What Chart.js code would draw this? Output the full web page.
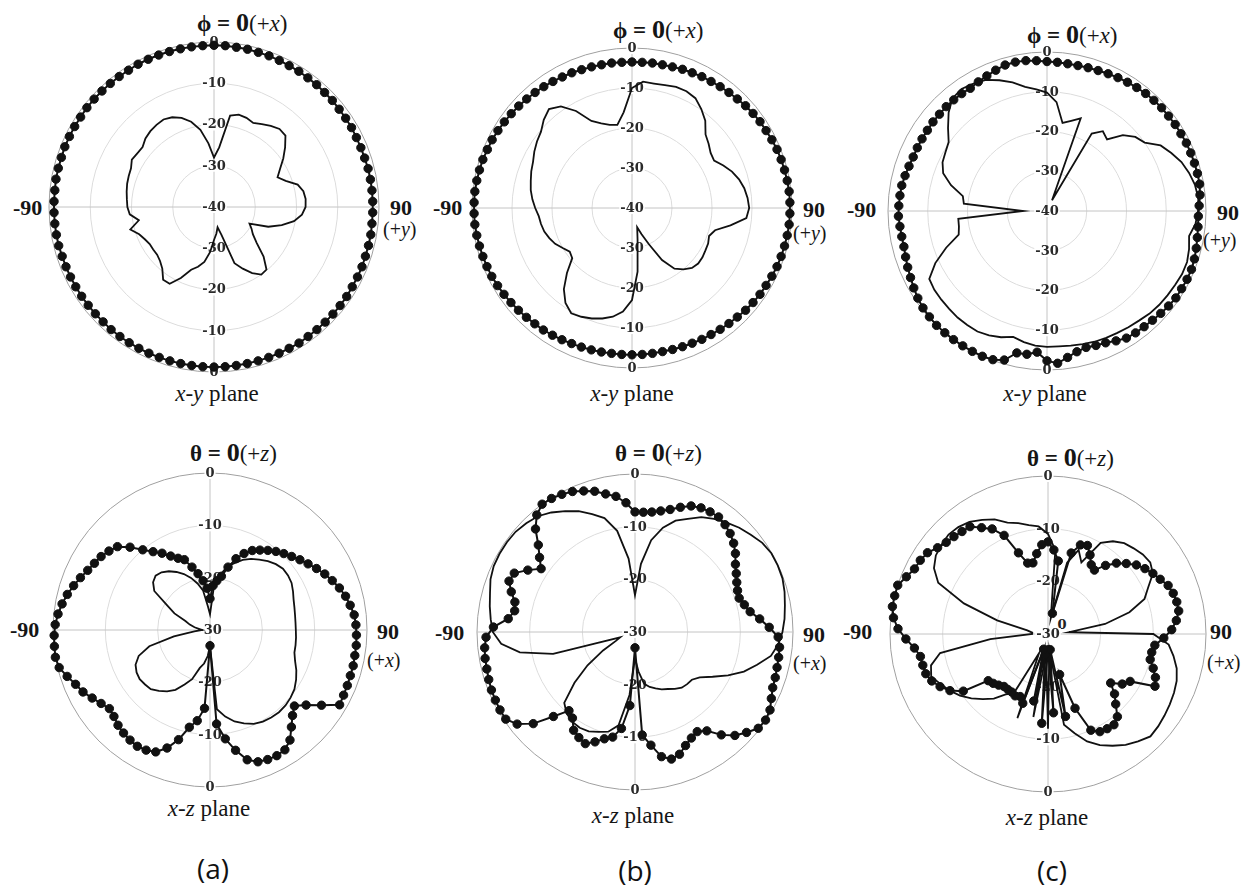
<!DOCTYPE html>
<html><head><meta charset="utf-8">
<script src="https://cdn.jsdelivr.net/npm/chart.js@4.4.0/dist/chart.umd.min.js"></script>
<style>
html,body{margin:0;padding:0;background:#fff;}
#wrap{position:relative;width:1252px;height:887px;overflow:hidden;background:#fff;}
canvas{position:absolute;}
.t{position:absolute;font-family:"Liberation Serif","Times New Roman",serif;color:#151515;white-space:nowrap;line-height:1;}
.ttl{font-size:23px;transform:translateY(-50%);}
.ttl b{font-weight:bold;}
.ttl .z{font-size:26px;font-weight:bold;}
.ax{font-size:22px;font-weight:bold;transform:translateY(-50%);}
.ax2{font-size:20px;transform:translateY(-50%);}
.pl{font-size:23px;transform:translate(-50%,-50%);}
.lt{position:absolute;font-family:"Open Sans","Noto Sans",sans-serif;font-size:28px;color:#111;transform:translate(-50%,-50%);line-height:1;white-space:nowrap;}
.sm{position:absolute;font-family:"DejaVu Serif",serif;font-weight:bold;font-size:13px;color:#222;transform:translate(-50%,-50%);line-height:1;}
</style></head>
<body><div id="wrap">
<div class="t ttl" style="left:197px;top:23px"><b>ϕ = </b><span class="z">0</span>(+<i>x</i>)</div>
<div class="t ttl" style="left:613px;top:30px"><b>ϕ = </b><span class="z">0</span>(+<i>x</i>)</div>
<div class="t ttl" style="left:1027px;top:35px"><b>ϕ = </b><span class="z">0</span>(+<i>x</i>)</div>
<div class="t ttl" style="left:190px;top:453px"><b>θ = </b><span class="z">0</span>(+<i>z</i>)</div>
<div class="t ttl" style="left:615px;top:453px"><b>θ = </b><span class="z">0</span>(+<i>z</i>)</div>
<div class="t ttl" style="left:1027px;top:458px"><b>θ = </b><span class="z">0</span>(+<i>z</i>)</div>

<div class="t ax" style="left:13px;top:208px">-90</div>
<div class="t ax" style="left:433px;top:208px">-90</div>
<div class="t ax" style="left:847px;top:210px">-90</div>
<div class="t ax" style="left:10px;top:630px">-90</div>
<div class="t ax" style="left:435px;top:633px">-90</div>
<div class="t ax" style="left:843px;top:632px">-90</div>

<div class="t ax" style="left:390px;top:208px">90</div>
<div class="t ax" style="left:803px;top:210px">90</div>
<div class="t ax" style="left:1217px;top:213px">90</div>
<div class="t ax" style="left:377px;top:632px">90</div>
<div class="t ax" style="left:803px;top:635px">90</div>
<div class="t ax" style="left:1210px;top:632px">90</div>

<div class="t ax2" style="left:383px;top:229px">(+<i>y</i>)</div>
<div class="t ax2" style="left:793px;top:233px">(+<i>y</i>)</div>
<div class="t ax2" style="left:1203px;top:240px">(+<i>y</i>)</div>
<div class="t ax2" style="left:367px;top:660px">(+<i>x</i>)</div>
<div class="t ax2" style="left:793px;top:663px">(+<i>x</i>)</div>
<div class="t ax2" style="left:1207px;top:662px">(+<i>x</i>)</div>

<div class="t pl" style="left:217px;top:393px"><i>x-y</i> plane</div>
<div class="t pl" style="left:632px;top:393px"><i>x-y</i> plane</div>
<div class="t pl" style="left:1045px;top:393px"><i>x-y</i> plane</div>
<div class="t pl" style="left:209px;top:808px"><i>x-z</i> plane</div>
<div class="t pl" style="left:633px;top:815px"><i>x-z</i> plane</div>
<div class="t pl" style="left:1047px;top:817px"><i>x-z</i> plane</div>

<div class="lt" style="left:213px;top:868px">(a)</div>
<div class="lt" style="left:635px;top:870px">(b)</div>
<div class="lt" style="left:1052px;top:870px">(c)</div>
<div class="sm" style="left:1062px;top:624px">0</div>
</div>
<script>
// ---- data (dB). Dotted series sampled every 4 deg, solid every 5 deg; angle clockwise from top ----
const dotStep = 4;
const solStep = 5;

const aTopDot = [-0.8,-0.8,-0.9,-0.9,-1.0,-1.0,-1.1,-1.2,-1.2,-1.3,-1.3,
 -1.4,-1.4,-1.5,-1.5,-1.5,-1.6,-1.6,-1.6,-1.5,-1.5,-1.5,-1.5,
 -1.5,-1.5,-1.4,-1.4,-1.4,-1.3,-1.3,-1.3,-1.2,-1.2,-1.2,-1.2,
 -1.2,-1.2,-1.1,-1.2,-1.2,-1.2,-1.2,-1.2,-1.2,-1.2,-1.2,
 -1.2,-1.2,-1.2,-1.2,-1.2,-1.2,-1.2,-1.2,-1.2,-1.2,-1.3,-1.3,
 -1.3,-1.3,-1.3,-1.3,-1.3,-1.3,-1.2,-1.2,-1.2,-1.2,-1.2,-1.2,
 -1.1,-1.1,-1.1,-1.0,-1.0,-1.0,-1.0,-0.9,-0.9,-0.9,-0.9,
 -0.9,-0.9,-0.8,-0.8,-0.8,-0.8,-0.8,-0.8,-0.8];
const aTopSol = [-28,-25.5,-17.5,-16.8,-17,-17.5,-16.8,-16,-15.3,-15.5,-17.5,-19.5,-21.5,-23,-21.5,-19,-18,-17.7,
 -17.8,-18.6,-20.3,-23,-26,-30.5,-29.5,-28.5,-26.5,-23,-20.2,-20,-21.5,-23.5,-25.5,-33,-35,-33.5,
 -32,-29,-26.5,-25,-23.8,-21,-18.5,-18.5,-20.5,-21.5,-22,-22,-22,-21.5,-20.7,-19,-21.5,-19.5,
 -19,-18.8,-18.5,-18.2,-18,-17.8,-17,-17.3,-17.4,-16.5,-16,-15.7,-15.5,-16,-17,-18.6,-21,-24.5];

const bTopDot = [-3.5,-3.5,-3.4,-3.4,-3.3,-3.1,-3.0,-2.8,-2.7,-2.5,-2.3,-2.1,-1.8,-1.6,-1.4,-1.3,-1.1,-0.9,-0.8,-0.7,-0.6,-0.5,-0.5,
 -0.5,-0.5,-0.6,-0.7,-0.8,-0.9,-1.1,-1.3,-1.4,-1.6,-1.8,-2.1,-2.3,-2.5,-2.7,-2.8,-3.0,-3.1,-3.2,-3.3,-3.3,-3.3,
 -3.3,-3.3,-3.3,-3.2,-3.1,-3.0,-2.9,-2.7,-2.5,-2.3,-2.2,-2.0,-1.8,-1.6,-1.4,-1.2,-1.0,-0.9,-0.8,-0.7,-0.6,-0.5,-0.5,
 -0.5,-0.5,-0.6,-0.7,-0.8,-1.0,-1.1,-1.3,-1.5,-1.7,-1.9,-2.1,-2.3,-2.5,-2.7,-2.9,-3.0,-3.2,-3.3,-3.4,-3.4,-3.5];
const bTopSol = [-10,-8.3,-8.4,-8.2,-7.8,-7.8,-8.3,-9.8,-11.5,-14,-15,-16,-16.3,-14.8,-13.4,-12.3,-11.5,-11,
 -10.7,-11.3,-15,-18.5,-19.5,-19,-18.8,-18.5,-18.4,-18.8,-20,-21.5,-25,-30,-33,-35,-32,-24,
 -17,-14,-12.4,-11.4,-10.6,-10,-9.6,-11,-13.5,-17,-20.5,-21,-20,-18.8,-18,-17.3,-16.9,-16.6,
 -15.8,-15,-14.3,-13.8,-13.2,-12.7,-11.8,-11,-10.3,-8.8,-7.7,-9,-12,-16,-17.5,-18.5,-18.9,-16];

const cTopDot = [-2.4,-2.5,-2.6,-2.6,-2.5,-2.4,-2.2,-2.0,-1.8,-1.6,-1.4,-1.3,-1.2,-1.2,-1.1,-1.1,-1.0,-1.0,-1.0,-1.0,-1.0,-1.3,-1.7,
 -1.9,-1.8,-1.6,-1.3,-1.0,-0.8,-0.8,-0.9,-0.9,-1.2,-1.5,-1.8,-2.0,-2.1,-2.3,-3.0,-3.7,-4.0,-4.3,-3.8,-2.8,-1.6,
 -2.3,-4.4,-3.6,-3.5,-1.0,-0.2,0,0,0,0,0,0,-0.2,-0.4,-0.8,-1.3,-1.8,-2.2,-2.6,-2.9,-2.9,-2.8,-2.6,
 -2.7,-2.8,-2.9,-3.2,-3.5,-3.7,-3.7,-3.7,-3.7,-3.6,-3.6,-3.5,-3.5,-3.5,-3.6,-3.2,-2.8,-2.3,-1.8,-1.7,-1.8,-2.1];
const cTopSol = [-10.2,-12.5,-17.5,-16.5,-15.2,-37,-17.5,-15.5,-16.5,-13,-11,-10,-7,-5.5,-4,-3,-2.2,-1.8,
 -2,-2.5,-3.7,-3,-2.5,-2.5,-2.8,-3,-3.2,-3.5,-4,-4.3,-4.6,-4.8,-5,-5.3,-5.6,-5.8,
 -5.8,-6,-6.5,-7.2,-6.2,-5.5,-5,-5,-5,-5.2,-5.3,-5.4,-5.8,-9,-13,-17,-17.5,-17.6,
 -34,-19,-18.5,-15,-12.2,-11,-10.5,-9.8,-7.5,-5,-3,-2.5,-3,-3.6,-5,-6.5,-8.3,-9.3];

const aBotDot = [-24,-21.5,-20.5,-19.5,-17.5,-15.5,-14,-12.8,-12,-11.2,-10.4,-9.7,-9,-8.2,-7.4,-6.5,-5.6,-4.8,-4,-3.3,-2.8,-2.3,-2.1,
 -2,-1.9,-1.9,-1.8,-1.8,-1.7,-1.6,-1.4,-4.3,-6.7,-8.3,-7.3,-5.8,-4,-3,-2.8,-2.9,-3.2,-4.2,-6.5,-9,-12,
 -27,-15,-12.5,-11,-8.2,-6,-4.5,-4,-3.8,-4,-4.3,-4.7,-5.3,-5.6,-4.9,-4,-3,-2.3,-1.3,-0.3,0,-0.1,-0.2,
 -0.4,-0.8,-1.3,-1.9,-2.6,-3.3,-4,-4.5,-4.9,-5.5,-6.2,-8,-10,-11.5,-12.7,-14,-15,-15.7,-17.5,-19,-20.5,-22];
const aBotSol = [-27,-22,-19.5,-17.5,-16.4,-15.2,-14.3,-13.6,-12.8,-12.2,-11.8,-11.8,-12,-12.5,-13,-13.3,-13.5,-13.6,
 -13.6,-13.5,-13.4,-13.3,-12.7,-11.8,-11,-10.3,-9.9,-9.6,-9.5,-9.6,-9.8,-10.2,-11,-11.9,-13.2,-14.8,
 -27,-25,-23.5,-22.5,-20,-18.5,-16.8,-15.7,-14.8,-14,-13.8,-13.6,-13.8,-14.3,-15.5,-18,-23,-27,
 -28.5,-28,-27,-26,-25,-22.5,-20.5,-17,-15.8,-15.3,-15.6,-16.3,-17.2,-18.2,-19.4,-20.8,-22.3,-25.5];

const bBotDot = [-7.2,-7.2,-7,-6.5,-5.8,-4.8,-3.8,-3.3,-3.1,-3,-3.4,-4,-4.8,-5.8,-7,-7.8,-8.5,-9,-9.2,-8.6,-7.8,-6.2,-4.5,
 -2.8,-2.4,-2.3,-2.2,-2,-1.8,-1.2,-0.4,-0.1,-0.3,-1.5,-2.7,-4.5,-6.8,-7.7,-7.2,-6.4,-5.3,-4.9,-5.8,-8.3,-10.4,
 -27,-16,-11.5,-9.6,-8.9,-7.8,-6.8,-7.3,-8,-9.8,-10.5,-7.7,-4,-1.6,-0.4,-0.4,-0.5,-0.6,-0.8,-1,-1.1,-1.3,-1.7,
 -3.1,-5.8,-6.8,-6.5,-5.3,-4.2,-4.5,-6.5,-8.5,-7,-5.3,-2.8,-1,0,-0.1,-0.4,-0.8,-1.5,-2.2,-3.2,-4,-5.4];
const bBotSol = [-23,-17,-12.3,-9.5,-7.5,-6.3,-4.8,-3.8,-2.9,-2,-1.3,-0.5,-0.1,-0.1,-0.2,-0.6,-1.1,-1.5,
 -2,-2.7,-3.8,-6,-8,-10.5,-13,-15,-15.9,-16,-16.2,-16.8,-17.5,-18,-18.6,-19.2,-20,-22.5,
 -25,-18,-12,-10.4,-9.8,-9.2,-9,-9.2,-9.8,-11,-15,-19,-23,-26,-27,-13.9,-7.8,-4.5,
 -3,-2.5,-2,-1.5,-0.8,-0.4,-0.3,-0.3,-0.4,-0.8,-1.3,-2.3,-3.5,-4.7,-6.2,-7.6,-10.5,-16];

const cBotDot = [-12.5,-14,-16,-26,-14,-12,-11.6,-13,-14.5,-15,-13,-11.3,-10,-8.7,-7.8,-7,-6.3,-5.4,-5,-4.8,-4.8,-5.5,-6.5,
 -8,-9.6,-10,-10,-9,-8,-7.4,-12,-13,-14.9,-13,-11.5,-9.5,-8.7,-8.8,-9,-10,-15,-22,-14,-27,-15,
 -27,-13,-26,-17,-27,-16,-17,-16.7,-17,-17,-17,-16.5,-16,-15.6,-10.6,-8.5,-7.2,-6.2,-5.6,-5.5,-5.4,-4.5,-3,
 -1.5,-0.5,0,0,0,-1,-1.8,-2,-2.4,-3.4,-4,-4.3,-4.6,-4.8,-6.2,-7.4,-9.5,-13.6,-16,-16.2,-14.6,-13];
const cBotSol = [-11,-14,-27,-16,-13,-15,-10,-8.5,-7.5,-7,-6.5,-6.3,-7,-9,-10.5,-14,-19,-26,
 -10,-7,-5.8,-4.7,-4,-3.6,-3.3,-3,-2.7,-2.5,-3.4,-4.3,-5.5,-6.7,-8.3,-10.5,-12.5,-27,
 -12,-26,-14,-27,-13,-26,-17,-16,-14,-12.5,-11,-9.6,-8.5,-7.5,-6.4,-7,-9.2,-19,
 -27,-27,-26,-20,-13,-7,-5,-4,-3.6,-3.3,-3.5,-4,-5,-6,-7.5,-8.2,-9,-9.5];

// ---- helpers ----
const angleLabels = Array.from({length: 360}, (_, i) => i);
function spread(step, vals) {
  const arr = new Array(360).fill(null);
  vals.forEach((v, i) => { arr[i * step] = v; });
  return arr;
}

const mirrorTicks = {
  id: 'mirrorTicks',
  beforeDatasetsDraw(chart) {
    const s = chart.scales.r;
    const ctx = chart.ctx;
    ctx.save();
    ctx.font = 'bold 13px "DejaVu Serif", serif';
    ctx.textAlign = 'center';
    ctx.textBaseline = 'middle';
    s.ticks.forEach(t => {
      const d = s.getDistanceFromCenterForValue(t.value);
      const ys = d < 0.5 ? [s.yCenter] : [s.yCenter - d, s.yCenter + d];
      const txt = String(t.value);
      const w = ctx.measureText(txt).width;
      ys.forEach(y => {
        ctx.fillStyle = '#ffffff';
        ctx.fillRect(s.xCenter - w / 2 - 1, y - 6, w + 2, 12);
        ctx.fillStyle = '#2a2a2a';
        ctx.fillText(txt, s.xCenter, y + 0.5);
      });
    });
    ctx.restore();
  }
};

const P = 10;
function makePolar(cx, cy, R, min, dot, sol) {
  const c = document.createElement('canvas');
  const size = 2 * (R + P);
  c.width = size; c.height = size;
  c.style.left = (cx - R - P) + 'px';
  c.style.top = (cy - R - P) + 'px';
  c.style.width = size + 'px'; c.style.height = size + 'px';
  document.getElementById('wrap').appendChild(c);
  new Chart(c, {
    type: 'radar',
    data: {
      labels: angleLabels,
      datasets: [
        { data: spread(dotStep, dot), spanGaps: true, fill: false, clip: false,
          borderColor: '#111', backgroundColor: 'transparent', borderWidth: 2,
          pointRadius: 4.2, pointBackgroundColor: '#111', pointBorderColor: '#111', pointBorderWidth: 1 },
        { data: spread(solStep, sol), spanGaps: true, fill: false, clip: false,
          borderColor: '#111', backgroundColor: 'transparent', borderWidth: 1.8,
          pointRadius: 0 }
      ]
    },
    options: {
      responsive: false, animation: false, devicePixelRatio: 1,
      layout: { padding: P },
      elements: { line: { tension: 0 } },
      plugins: { legend: { display: false }, tooltip: { enabled: false } },
      scales: {
        r: {
          min: min, max: 0, startAngle: 0,
          ticks: { display: false, stepSize: 10 },
          pointLabels: { display: false },
          grid: { circular: true, lineWidth: 1,
                  color: ctx => (ctx.tick && ctx.tick.value === 0) ? '#a0a0a0' : '#dcdcdc' },
          angleLines: { display: true, color: '#c4c4c4',
                        lineWidth: ctx => (ctx.index % 90 === 0 ? 1 : 0) }
        }
      }
    },
    plugins: [mirrorTicks]
  });
}

makePolar(214, 207, 165, -40, aTopDot, aTopSol);
makePolar(632, 208, 160, -40, bTopDot, bTopSol);
makePolar(1047, 211, 159, -40, cTopDot, cTopSol);
makePolar(210, 630, 157, -30, aBotDot, aBotSol);
makePolar(635, 632, 158, -30, bBotDot, bBotSol);
makePolar(1048, 634, 158, -30, cBotDot, cBotSol);
</script>
</body></html>
